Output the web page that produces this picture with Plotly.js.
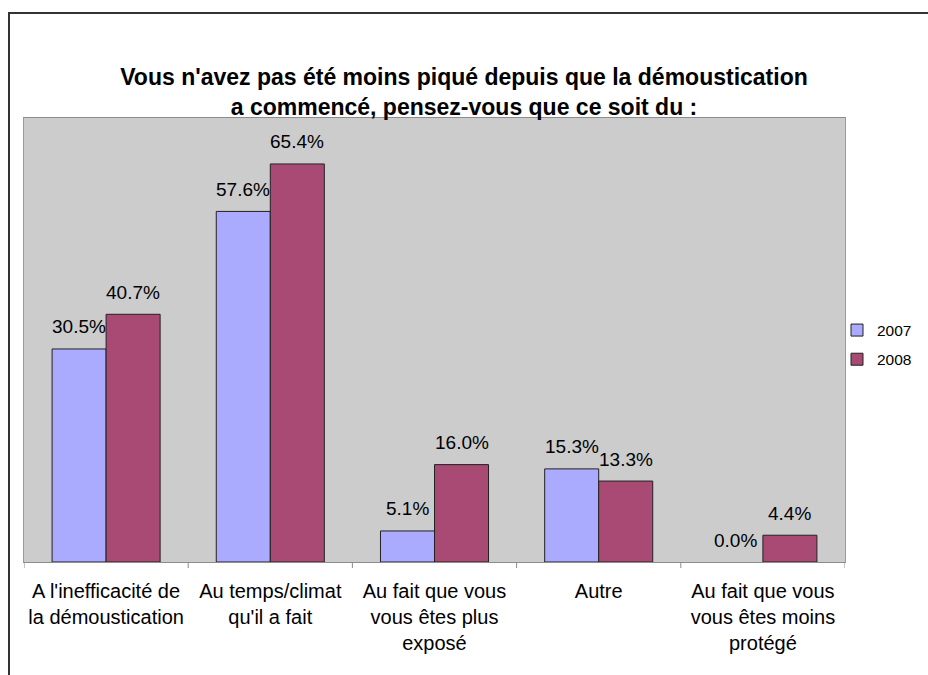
<!DOCTYPE html>
<html>
<head>
<meta charset="utf-8">
<script src="https://cdn.plot.ly/plotly-3.0.1.min.js"></script>
<style>
  html, body { margin: 0; padding: 0; background: #ffffff; overflow: hidden; }
  #frame { position: absolute; left: 8px; top: 12px; width: 1000px; height: 1000px;
           border-left: 2px solid #333; border-top: 2px solid #333; }
  #chart { position: absolute; left: 0; top: 0; width: 928px; height: 675px; }
</style>
</head>
<body>
<div id="frame"></div>
<div id="chart"></div>
<script>
const categories = [
  "A l'inefficacité de<br>la démoustication",
  "Au temps/climat<br>qu'il a fait",
  "Au fait que vous<br>vous êtes plus<br>exposé",
  "Autre",
  "Au fait que vous<br>vous êtes moins<br>protégé"
];
const seriesNames = ["2007", "2008"];
// bar heights as drawn in the picture
const values2007 = [35.0, 57.6, 5.1, 15.3, 0.0];
const values2008 = [40.7, 65.4, 16.0, 13.3, 4.4];
// data labels as printed in the picture
const labels2007 = ["30.5%", "57.6%", "5.1%", "15.3%", "0.0%"];
const labels2008 = ["40.7%", "65.4%", "16.0%", "13.3%", "4.4%"];
const chartTitle = "Vous n'avez pas été moins piqué depuis que la démoustication<br>a commencé, pensez-vous que ce soit du :";

const FONT = "Liberation Sans, Arial, sans-serif";
const colors = ["#aaaaff", "#a94a75"];
const catIdx = categories.map((c, i) => i);
const allValues = [values2007, values2008];
const allLabels = [labels2007, labels2008];

const traces = allValues.map((vals, k) => ({
  type: "bar",
  name: seriesNames[k],
  legendgroup: seriesNames[k],
  x: catIdx,
  y: vals,
  marker: {
    color: colors[k],
    line: { color: "#222222", width: vals.map(v => (v > 0 ? 1 : 0)) }
  },
  hoverinfo: "skip"
}));

// data labels placed from the data through the axes
const annotations = [];
allValues.forEach((vals, k) => {
  vals.forEach((v, i) => {
    annotations.push({
      x: i, y: v, xref: "x", yref: "y",
      text: allLabels[k][i],
      showarrow: false,
      xanchor: "center", yanchor: "middle",
      xshift: k === 0 ? -27 : 27,
      yshift: 22,
      font: { family: FONT, size: 19, color: "#000" }
    });
  });
});

const PLOT_H = 444;
const layout = {
  width: 928, height: 675,
  paper_bgcolor: "rgba(0,0,0,0)",
  plot_bgcolor: "#cccccc",
  margin: { l: 24, r: 83, t: 118, b: 113, autoexpand: false },
  font: { family: FONT, size: 19, color: "#000" },
  title: {
    text: "<b>" + chartTitle + "</b>",
    x: 0.5, xref: "container", xanchor: "center",
    y: 1 - 85 / 675, yref: "container", yanchor: "middle",
    font: { family: FONT, size: 23, color: "#000" }
  },
  barmode: "group",
  bargap: 0.342,
  bargroupgap: 0,
  showlegend: true,
  legend: {
    x: 837 / 928, xref: "container", xanchor: "left",
    y: 1 - 345 / 675, yref: "container", yanchor: "middle",
    font: { family: FONT, size: 15.5, color: "#000" },
    bgcolor: "rgba(0,0,0,0)",
    itemwidth: 30,
    traceorder: "grouped",
    tracegroupgap: 6
  },
  xaxis: {
    type: "linear",
    tickmode: "array",
    tickvals: catIdx,
    ticktext: categories,
    range: [-0.5, categories.length - 0.5],
    showgrid: false,
    zeroline: false,
    showline: true, linecolor: "#8c8c8c", linewidth: 1, mirror: true,
    ticks: "",
    ticklabelstandoff: 11,
    tickfont: { family: FONT, size: 20, color: "#000" },
    fixedrange: true
  },
  yaxis: {
    range: [0, 72.95],
    showgrid: false,
    zeroline: false,
    showticklabels: false,
    ticks: "",
    showline: true, linecolor: "#9a9a9a", linewidth: 1, mirror: true,
    fixedrange: true
  },
  // tick marks at category boundaries, pointing down below the axis
  shapes: [0, 1, 2, 3, 4, 5].map(j => ({
    type: "line", xref: "x", yref: "paper",
    x0: j - 0.5, x1: j - 0.5, y0: 0, y1: -6 / PLOT_H,
    line: { color: "#8c8c8c", width: 1 }
  })),
  annotations: annotations
};

Plotly.newPlot("chart", traces, layout, { displayModeBar: false, staticPlot: true });
</script>
</body>
</html>
